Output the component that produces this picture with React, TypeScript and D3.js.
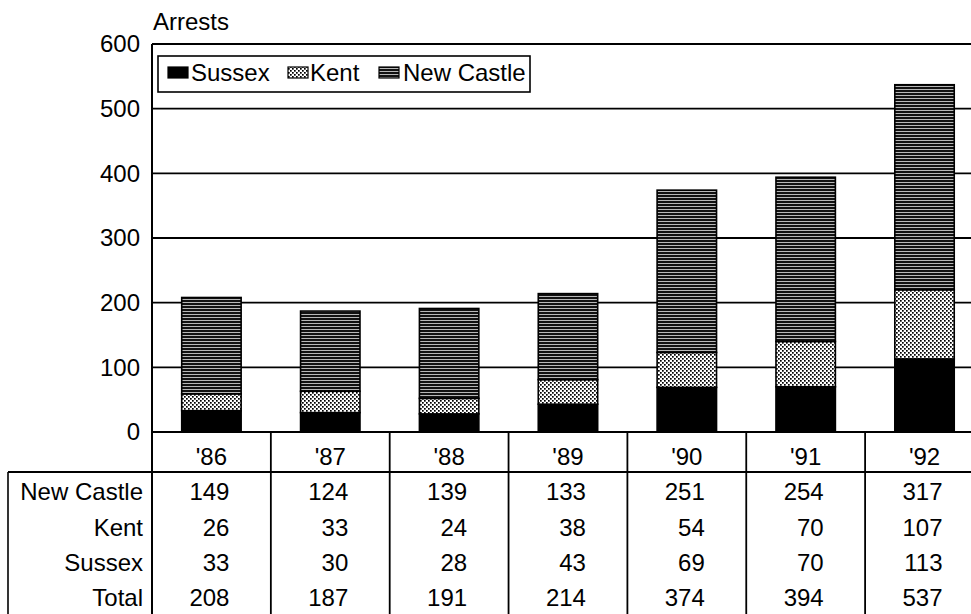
import React from "react";
import * as d3 from "d3";

const years = ["'86", "'87", "'88", "'89", "'90", "'91", "'92"];
const newCastle = [149, 124, 139, 133, 251, 254, 317];
const kent = [26, 33, 24, 38, 54, 70, 107];
const sussex = [33, 30, 28, 43, 69, 70, 113];
const totals = [208, 187, 191, 214, 374, 394, 537];
const yTicks = [0, 100, 200, 300, 400, 500, 600];
const seriesNames = ["Sussex", "Kent", "New Castle"];

const W = 971;
const H = 614;
const FONT = "'Liberation Sans', Arial, Helvetica, sans-serif";
const FS = 24;

export default function App() {
  const left = 152;
  const colW = 118.85;
  const x = d3
    .scaleBand<string>()
    .domain(years)
    .range([left, left + colW * years.length])
    .paddingInner(0.5)
    .paddingOuter(0.25);
  const y = d3.scaleLinear().domain([0, 600]).range([432, 44]);

  const rows = years.map((yr, i) => ({
    year: yr,
    Sussex: sussex[i],
    Kent: kent[i],
    "New Castle": newCastle[i],
  }));
  const stack = d3.stack<any>().keys(seriesNames)(rows);
  const fills: Record<string, string> = {
    Sussex: "#000",
    Kent: "url(#kentPat)",
    "New Castle": "url(#ncPat)",
  };

  const colEdges = years.map((_, i) => left + i * colW);
  const colCenter = (i: number) => left + (i + 0.5) * colW;

  const tableRows = [
    { label: "New Castle", values: newCastle, base: 500 },
    { label: "Kent", values: kent, base: 535.5 },
    { label: "Sussex", values: sussex, base: 570.5 },
    { label: "Total", values: totals, base: 606 },
  ];

  const legendItems = [
    { name: "Sussex", sx: 168, tx: 191 },
    { name: "Kent", sx: 288, tx: 310 },
    { name: "New Castle", sx: 379, tx: 403 },
  ];

  return (
    <svg
      width={W}
      height={H}
      style={{ position: "fixed", left: 0, top: 0, background: "#fff" }}
      fontFamily={FONT}
      fontSize={FS}
    >
      <defs>
        <pattern id="kentPat" width={4} height={4} patternUnits="userSpaceOnUse">
          <rect width={4} height={4} fill="#fff" />
          <rect x={0} y={0} width={1.7} height={1.7} fill="#000" />
          <rect x={2} y={2} width={1.7} height={1.7} fill="#000" />
        </pattern>
        <pattern id="ncPat" width={6} height={3} patternUnits="userSpaceOnUse">
          <rect width={6} height={3} fill="#fff" />
          <rect x={0} y={0} width={6} height={2.3} fill="#111" />
        </pattern>
      </defs>
      <rect width={W} height={H} fill="#fff" />

      {/* gridlines */}
      {yTicks.map((t) => (
        <line
          key={"g" + t}
          x1={left}
          x2={W}
          y1={y(t)}
          y2={y(t)}
          stroke="#000"
          strokeWidth={t === 0 || t === 600 ? 2.2 : 1.8}
        />
      ))}

      {/* y tick labels */}
      {yTicks.map((t) => (
        <text
          key={"yl" + t}
          x={140}
          y={y(t) + 2}
          textAnchor="end"
          dominantBaseline="middle"
          fill="#000"
        >
          {t}
        </text>
      ))}
      <text x={153} y={30} fill="#000">
        Arrests
      </text>

      {/* bars */}
      {stack.map((s) =>
        s.map((d, i) => (
          <rect
            key={s.key + i}
            x={x(years[i])}
            width={x.bandwidth()}
            y={y(d[1])}
            height={y(d[0]) - y(d[1])}
            fill={fills[s.key]}
            stroke="#000"
            strokeWidth={1.6}
          />
        ))
      )}

      {/* left axis line */}
      <line x1={left} x2={left} y1={44} y2={H} stroke="#000" strokeWidth={2} />

      {/* legend */}
      <rect x={158} y={56} width={372} height={36} fill="#fff" stroke="#000" strokeWidth={1.6} />
      {legendItems.map((it) => (
        <g key={it.name}>
          <rect
            x={it.sx}
            y={67}
            width={20}
            height={11}
            fill={fills[it.name]}
            stroke="#000"
            strokeWidth={1.2}
          />
          <text x={it.tx} y={81} fill="#000">
            {it.name}
          </text>
        </g>
      ))}

      {/* table */}
      {colEdges.slice(1).map((cx, i) => (
        <line key={"v" + i} x1={cx} x2={cx} y1={432} y2={H} stroke="#000" strokeWidth={1.8} />
      ))}
      <line x1={8} x2={W} y1={472} y2={472} stroke="#000" strokeWidth={2} />
      <line x1={8} x2={8} y1={472} y2={H} stroke="#000" strokeWidth={1.6} />
      {years.map((yr, i) => (
        <text key={"h" + yr} x={colCenter(i)} y={465} textAnchor="middle" fill="#000">
          {yr}
        </text>
      ))}
      {tableRows.map((r) => (
        <g key={r.label}>
          <text x={143} y={r.base} textAnchor="end" fill="#000">
            {r.label}
          </text>
          {r.values.map((v, i) => (
            <text key={i} x={colCenter(i) + 18} y={r.base} textAnchor="end" fill="#000">
              {v}
            </text>
          ))}
        </g>
      ))}
    </svg>
  );
}
